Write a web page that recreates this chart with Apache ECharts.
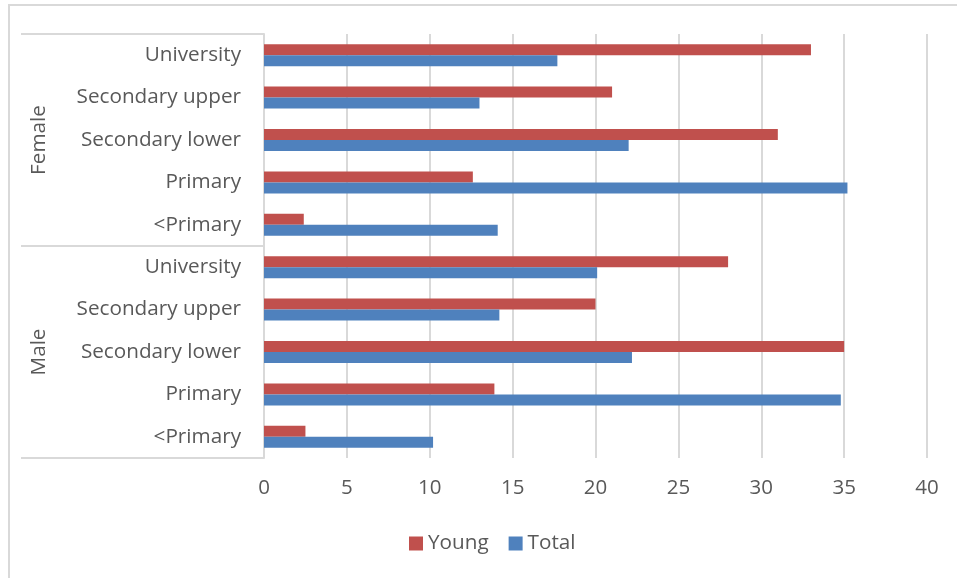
<!DOCTYPE html>
<html>
<head>
<meta charset="utf-8">
<script src="https://cdn.jsdelivr.net/npm/echarts@6/dist/echarts.min.js"></script>
<style>
  html, body { margin: 0; padding: 0; background: #fff; }
  #wrap { position: relative; width: 957px; height: 578px; overflow: hidden; }
  #frame { position: absolute; left: 8px; top: 4px; width: 1000px; height: 1000px;
           border-left: 2px solid #d9d9d9; border-top: 2px solid #d9d9d9; box-sizing: border-box; }
  #chart { position: absolute; left: 0; top: 0; width: 957px; height: 578px; }
</style>
</head>
<body>
<div id="wrap">
  <div id="frame"></div>
  <div id="chart"></div>
</div>
<script>
// ---- data ----
const groups = ['Female', 'Male'];
const levels = ['University', 'Secondary upper', 'Secondary lower', 'Primary', '<Primary'];
const youngFemale = [33, 21, 31, 12.6, 2.4];
const totalFemale = [17.7, 13, 22, 35.2, 14.1];
const youngMale = [28, 20, 35, 13.9, 2.5];
const totalMale = [20.1, 14.2, 22.2, 34.8, 10.2];
const xTicks = [0, 5, 10, 15, 20, 25, 30, 35, 40];
const seriesNames = ['Young', 'Total'];

// ---- build ----
const categories = [];
groups.forEach(g => levels.forEach(l => categories.push(g + '|' + l)));
const youngData = youngFemale.concat(youngMale);
const totalData = totalFemale.concat(totalMale);

const FONT = 'Open Sans';
const TXT = '#595959';
const GRID = '#d9d9d9';

const chart = echarts.init(document.getElementById('chart'), null, { renderer: 'canvas' });
chart.setOption({
  animation: false,
  backgroundColor: 'transparent',
  textStyle: { fontFamily: FONT },
  grid: { left: 264, right: 30, top: 34, bottom: 120, containLabel: false, outerBoundsMode: 'none' },
  legend: {
    data: seriesNames,
    left: 404, top: 528,
    itemWidth: 14, itemHeight: 14, itemGap: 20,
    icon: 'rect',
    textStyle: { fontFamily: FONT, fontSize: 20.7, color: TXT }
  },
  xAxis: {
    type: 'value',
    min: xTicks[0], max: xTicks[xTicks.length - 1], interval: 5,
    axisLine: { show: false },
    axisTick: { show: false },
    splitLine: { show: true, lineStyle: { color: GRID, width: 2 } },
    axisLabel: { fontFamily: FONT, fontSize: 20.5, color: TXT, margin: 20 }
  },
  yAxis: [
    {
      type: 'category',
      data: categories,
      inverse: true,
      position: 'left',
      axisLine: { show: true, lineStyle: { color: GRID, width: 2 } },
      axisTick: { show: false },
      axisLabel: {
        fontFamily: FONT, fontSize: 20.7, color: TXT, margin: 23, interval: 0,
        padding: [4, 0, 0, 0],
        formatter: v => v.split('|')[1]
      }
    },
    {
      type: 'category',
      data: groups,
      inverse: true,
      position: 'left',
      offset: 0,
      axisLine: { show: false },
      axisTick: { show: true, length: 243, lineStyle: { color: GRID, width: 2 } },
      axisLabel: {
        fontFamily: FONT, fontSize: 20.7, color: TXT, rotate: 90, margin: 214, interval: 0
      }
    }
  ],
  series: [
    {
      name: seriesNames[0], type: 'bar', yAxisIndex: 0,
      data: youngData, barWidth: 11, barGap: '0%',
      itemStyle: { color: '#C0504D' }
    },
    {
      name: seriesNames[1], type: 'bar', yAxisIndex: 0,
      data: totalData, barWidth: 11, barGap: '0%',
      itemStyle: { color: '#4F81BD' }
    }
  ]
});
</script>
</body>
</html>
